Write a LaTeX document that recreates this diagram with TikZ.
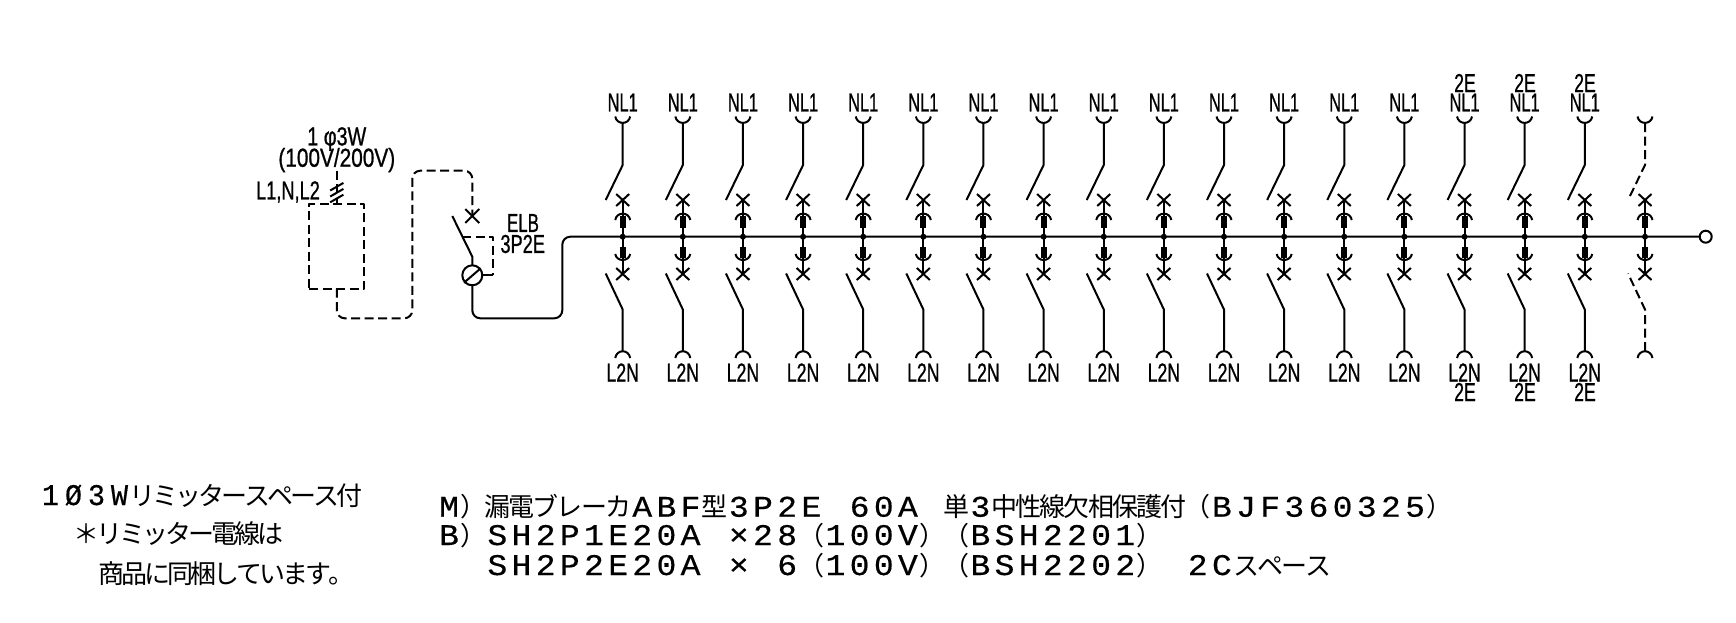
\documentclass[tikz,border=0pt]{standalone}
\usepackage{graphicx}
\usepackage{fontspec}
\setmainfont{Liberation Sans}
\newfontfamily\jpfam{Noto Sans CJK JP}
\newfontfamily\latfam{Liberation Mono}[FakeBold=0.4]
\newfontfamily\lblfam{Liberation Sans}[FakeBold=1]
\newlength\cellw
\newcommand\latscale{1.1}
\makeatletter
\newcommand{\lt}[1]{\@tfor\pch:=#1\do{\makebox[\cellw][c]{\scalebox{\latscale}[1]{\fontsize{30}{30}\latfam\selectfont\pch}}}}
\newcommand{\jp}[1]{\@tfor\pch:=#1\do{\makebox[\cellw][c]{\fontsize{26}{26}\jpfam\selectfont\pch}}}
\makeatother
\newcommand\lbl[2]{\scalebox{#1}[1]{\fontsize{26}{26}\lblfam\selectfont #2}}
\tikzset{
  wire/.style={line width=2pt,line join=round},
  dashwire/.style={wire,dash pattern=on 9pt off 4.5pt},
  roundwire/.style={rounded corners=8pt},
  tag/.style={inner sep=0pt,outer sep=0pt,anchor=center},
  basetext/.style={inner sep=0pt,outer sep=0pt,anchor=base west},
}
% one breaker column: #1 style of the load-side wires
\newcommand\column[1]{%
  \coordinate (tc) at (0,123);
  \coordinate (tk) at (0,165);
  \coordinate (td) at (-17,200);
  \coordinate (xa) at (0,200);
  \coordinate (xb) at (0,274);
  \coordinate (bd) at (-17,273.5);
  \coordinate (bk) at (0,309.5);
  \coordinate (bc) at (0,351);
  \draw[wire] (-7.5,116.5) .. controls (-6,125) and (6,125) .. (7.5,116.5);
  \draw[wire] (-7.5,358) .. controls (-6,349) and (6,349) .. (7.5,358);
  \draw[wire,#1] (tc) -- (tk) -- (td);
  \draw[wire,#1] (bc) -- (bk) -- (bd);
  \draw[wire] (xa) -- (xb);
  \draw[wire] (-6.5,194) -- (6.5,206) (-6.5,206) -- (6.5,194);
  \draw[wire] (-6.5,268) -- (6.5,280) (-6.5,280) -- (6.5,268);
  \draw[wire] (-7.5,220) .. controls (-6,211.5) and (6,211.5) .. (7.5,220);
  \draw[wire] (-7.5,254) .. controls (-6,262) and (6,262) .. (7.5,254);
  \fill (-3,216) rectangle (3,228);
  \fill (-3,246.5) rectangle (3,258);
  \fill (0,236.7) circle (3);
}
\begin{document}
\begin{tikzpicture}[x=1pt,y=-1pt]
\useasboundingbox (0,0) rectangle (1736,622);
\fill[white] (0,0) rectangle (1736,622);

% source box
\node[draw,dashwire,minimum width=55pt,minimum height=85pt,inner sep=0pt,outer sep=0pt] (box) at (336.8,246.2) {};
\coordinate (feed) at (336.8,170.7);
\draw[dashwire] (feed) -- (box.north);
\foreach \yy in {186.7,192.7,198.5} \draw[wire] (330.2,\yy+3.8) -- (343.4,\yy-3.8);

\node[tag] (phase) at (336.8,139) {\lbl{.76}{1 φ3W}};
\node[tag] (volt) at (336.8,160) {\lbl{.8}{(100V/200V)}};
\node[tag] (lines) at (288,192) {\lbl{.7}{L1,N,L2}};

% ELB
\coordinate (xelb) at (472.3,216);
\node[circle,draw,wire,minimum size=20pt,inner sep=0pt,outer sep=0pt] (zct) at (472.3,275.3) {};
\coordinate (pivot) at (472.3,256.7);
\coordinate (blade) at (452.3,216);
\coordinate (bend) at (462,236.7);
\draw[dashwire,roundwire] (box.south) -- (336.8,318.3) -- (412.3,318.3) -- (412.3,170.7) -- (472.3,170.7) -- (xelb);
\draw[wire] (465.3,209) -- (479.3,223) (465.3,223) -- (479.3,209);
\draw[wire] (blade) -- (pivot) -- (zct.north);
\draw[wire] (464,282.7) -- (480.7,268.3);
\draw[dashwire] (bend) -- (493.3,236.7) -- (493.3,275.3);
\draw[wire] (493.3,275.3) -- (zct.east);
\node[tag] (elb) at (523,223) {\lbl{.65}{ELB}};
\node[tag] (pole) at (522.7,244) {\lbl{.7}{3P2E}};

% bus bar
\node[circle,draw,wire,minimum size=12pt,inner sep=0pt,outer sep=0pt] (end) at (1705.7,236.7) {};
\draw[wire,roundwire] (zct.south) -- (472.3,318.3) -- (562.3,318.3) -- (562.3,236.7) -- (end.west);

% breakers
\foreach \i in {0,...,16} {
  \begin{scope}[xshift={622.7pt+\i*60.13pt}]
    \column{solid}
    \node[tag] (nl\i) at (0,102.5) {\lbl{.63}{NL1}};
    \node[tag] (ln\i) at (0,372.5) {\lbl{.68}{L2N}};
  \end{scope}
}
\begin{scope}[xshift=1645pt]
  \column{dash pattern=on 9pt off 4.5pt}
\end{scope}
\foreach \i/\xx in {a/1465,b/1525,c/1585} {
  \node[tag] (te\i) at (\xx,83) {\lbl{.68}{2E}};
  \node[tag] (be\i) at (\xx,392) {\lbl{.68}{2E}};
}

% notes left
\setlength\cellw{23pt}
\renewcommand\latscale{.95}
\node[basetext] (n1) at (39,505) {\lt{1Ø3W}\jp{リミッタースペース付}};
\node[basetext] (n2) at (75,543) {\jp{＊リミッター電線は}};
\node[basetext] (n3) at (100,583) {\jp{商品に同梱しています。}};

% notes right
\setlength\cellw{24.15pt}
\renewcommand\latscale{1.1}
\node[basetext] (m1) at (437,516.7) {\lt{M}\jp{）漏電ブレーカ}\lt{ABF}\jp{型}\lt{3P2E~60A~}\jp{単}\lt{3}\jp{中性線欠相保護付（}\lt{BJF360325}\jp{）}};
\node[basetext] (m2) at (437,545) {\lt{B}\jp{）}\lt{SH2P1E20A~×28}\jp{（}\lt{100V}\jp{）（}\lt{BSH2201}\jp{）}};
\node[basetext] (m3) at (437,575) {\lt{~~SH2P2E20A~×~6}\jp{（}\lt{100V}\jp{）（}\lt{BSH2202}\jp{）}\lt{~2C}\jp{スペース}};
\end{tikzpicture}
\end{document}
